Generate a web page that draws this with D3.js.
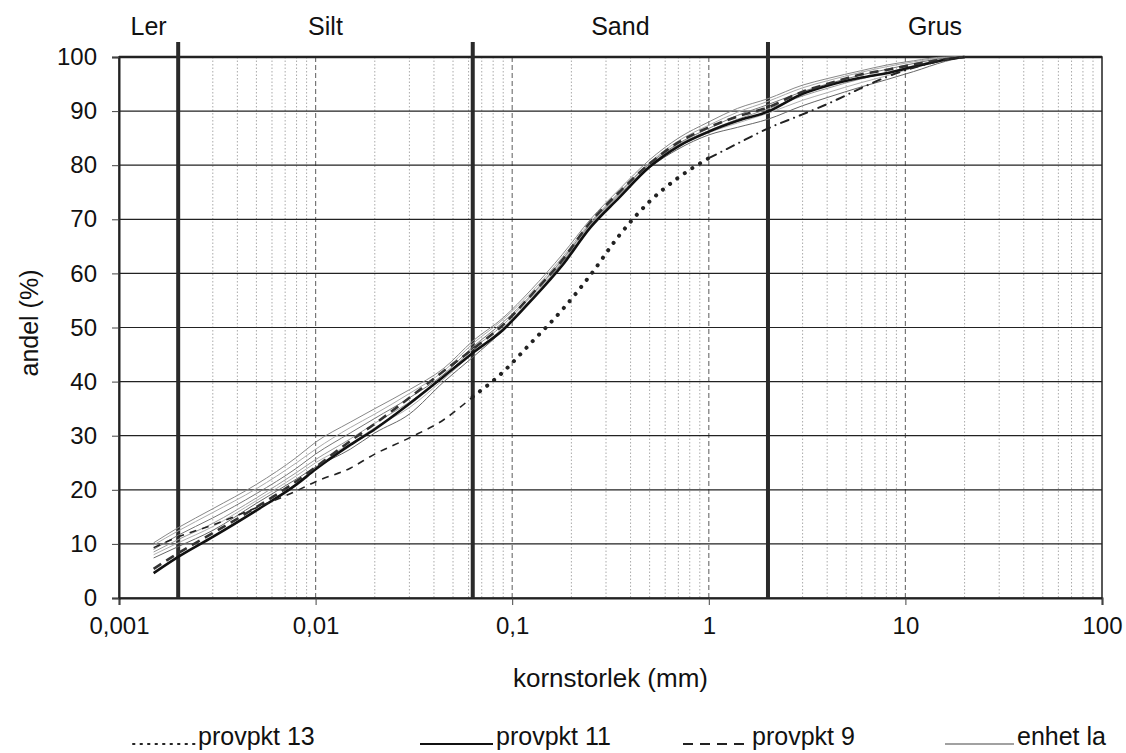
<!DOCTYPE html>
<html>
<head>
<meta charset="utf-8">
<script src="https://cdn.jsdelivr.net/npm/d3@7"></script>
<style>
  body { margin: 0; background: #fff; }
  text { font-family: "Liberation Sans", Arial, sans-serif; fill: #111; }
</style>
</head>
<body>
<svg id="vis" width="1126" height="753"></svg>
<script>
// grain sizes (mm)
var sizes = [0.0015, 0.002, 0.003, 0.005, 0.008, 0.01, 0.015, 0.02, 0.03, 0.045, 0.063,
             0.09, 0.125, 0.18, 0.25, 0.35, 0.5, 0.7, 1, 1.4, 2, 3, 4, 6, 8, 11, 16, 20];

var provpkt13 = [9.3, 11.3, 13.5, 16.7, 19.8, 21.5, 24.0, 26.6, 29.6, 33.0, 37.2,
                 41.8, 47.2, 53.3, 59.7, 67.0, 73.3, 77.7, 81.3, 84.0, 86.8, 89.4, 91.3, 94.3, 96.3, 98.0, 99.5, 100];
var provpkt11 = [4.6, 7.6, 11.3, 16.2, 21.0, 23.8, 28.3, 31.2, 35.9, 41.0, 45.3,
                 49.6, 55.0, 61.5, 68.5, 74.0, 79.7, 83.5, 86.2, 88.2, 89.9, 93.2, 94.7, 96.2, 97.0, 98.2, 99.5, 100];
var provpkt9 = [5.4, 8.3, 12.0, 16.8, 21.6, 24.2, 29.0, 32.2, 37.0, 42.0, 46.0,
                50.5, 56.0, 62.5, 69.5, 75.0, 80.3, 84.2, 87.0, 89.0, 90.7, 93.6, 95.0, 96.8, 97.6, 98.6, 99.6, 100];
var enhetLa = [
  [10.2, 13.0, 16.5, 21.0, 26.0, 28.8, 32.5, 35.0, 38.5, 42.5, 47.5, 51.8, 57.0, 63.5, 70.0, 75.5, 81.0, 85.0, 88.0, 90.5, 92.3, 94.8, 96.0, 97.5, 98.5, 99.3, 100, 100],
  [9.8, 12.4, 15.8, 20.2, 25.0, 27.5, 31.5, 34.0, 37.8, 42.0, 47.0, 51.5, 56.5, 63.0, 69.5, 75.0, 80.5, 84.5, 87.4, 89.8, 91.8, 94.3, 95.6, 97.2, 98.2, 99.1, 99.9, 100],
  [9.0, 11.6, 14.8, 19.3, 24.0, 26.6, 30.5, 33.2, 37.0, 41.4, 46.4, 51.0, 56.0, 62.6, 69.2, 74.8, 80.3, 84.0, 86.8, 89.2, 91.2, 93.6, 95.0, 96.7, 97.7, 98.8, 99.8, 100],
  [8.5, 10.8, 13.8, 18.5, 23.2, 25.6, 29.4, 32.3, 36.2, 41.0, 46.0, 50.5, 55.8, 62.5, 69.0, 74.5, 80.0, 83.8, 86.4, 88.5, 90.4, 92.8, 94.2, 96.0, 97.1, 98.4, 99.6, 100],
  [8.0, 10.2, 13.2, 18.0, 22.6, 25.0, 28.5, 31.5, 35.2, 40.5, 45.2, 50.0, 55.4, 62.2, 68.8, 74.2, 79.8, 83.4, 86.0, 87.8, 89.6, 92.0, 93.4, 95.3, 96.5, 98.0, 99.4, 100],
  [7.4, 9.5, 12.5, 17.5, 22.0, 24.2, 27.5, 30.5, 34.0, 40.0, 44.5, 49.5, 55.0, 62.0, 68.5, 74.0, 79.5, 83.0, 85.6, 87.0, 88.5, 91.0, 92.5, 94.5, 95.8, 97.3, 99.2, 100]
];
var enhetColors = ['#888', '#aaa', '#777', '#999', '#b0b0b0', '#666'];

var fractions = ['Ler', 'Silt', 'Sand', 'Grus'];
var fractionLimits = [0.001, 0.002, 0.063, 2, 100];
var xTicks = [0.001, 0.01, 0.1, 1, 10, 100];
var yTicks = [0, 10, 20, 30, 40, 50, 60, 70, 80, 90, 100];

var svg = d3.select('#vis');
// note: "top" is taken by window.top, so plot edges get their own names
var plotLeft = 119, plotRight = 1102, plotTop = 57, plotBottom = 598;

var x = d3.scaleLog().domain([0.001, 100]).range([plotLeft, plotRight]);
var y = d3.scaleLinear().domain([0, 100]).range([plotBottom, plotTop]);

var swe = d3.formatLocale({decimal: ',', thousands: ' ', grouping: [3], currency: ['', ' kr']});
var fmtX = function (d) { return swe.format('~g')(d); };

// minor vertical gridlines
var minor = [];
for (var e = -3; e < 2; e++) {
    for (var m = 2; m <= 9; m++) minor.push(m * Math.pow(10, e));
}
svg.append('g').selectAll('line').data(minor).enter().append('line')
    .attr('x1', function (d) { return x(d); }).attr('x2', function (d) { return x(d); })
    .attr('y1', plotTop).attr('y2', plotBottom)
    .attr('stroke', '#aaa').attr('stroke-width', 1).attr('stroke-dasharray', '1.5,2');

// decade gridlines
svg.append('g').selectAll('line').data(xTicks.slice(1, -1)).enter().append('line')
    .attr('x1', function (d) { return x(d); }).attr('x2', function (d) { return x(d); })
    .attr('y1', plotTop).attr('y2', plotBottom)
    .attr('stroke', '#777').attr('stroke-width', 1.2).attr('stroke-dasharray', '5,3');

// horizontal gridlines
svg.append('g').selectAll('line').data(yTicks.slice(1)).enter().append('line')
    .attr('x1', plotLeft).attr('x2', plotRight)
    .attr('y1', function (d) { return y(d); }).attr('y2', function (d) { return y(d); })
    .attr('stroke', '#222').attr('stroke-width', 1.2);

// frame
svg.append('rect').attr('x', plotLeft).attr('y', plotTop)
    .attr('width', plotRight - plotLeft).attr('height', plotBottom - plotTop)
    .attr('fill', 'none').attr('stroke', '#222').attr('stroke-width', 1.5);
svg.append('line').attr('x1', plotLeft).attr('x2', plotRight)
    .attr('y1', plotTop).attr('y2', plotTop)
    .attr('stroke', '#222').attr('stroke-width', 2.5);

// axes
var xAxis = svg.append('g').attr('transform', 'translate(0,' + plotBottom + ')')
    .call(d3.axisBottom(x).tickValues(xTicks).tickFormat(fmtX).tickSize(7).tickPadding(12));
var yAxis = svg.append('g').attr('transform', 'translate(' + plotLeft + ',0)')
    .call(d3.axisLeft(y).tickValues(yTicks).tickSize(7).tickPadding(15));
[xAxis, yAxis].forEach(function (a) {
    a.select('.domain').attr('stroke', '#222').attr('stroke-width', 2);
    a.selectAll('.tick line').attr('stroke', '#444');
    a.selectAll('.tick text').style('font-size', '24px').attr('fill', '#111')
        .style('font-family', '"Liberation Sans", Arial, sans-serif');
});

// thick fraction limits
svg.append('g').selectAll('line').data(fractionLimits.slice(1, -1)).enter().append('line')
    .attr('x1', function (d) { return x(d); }).attr('x2', function (d) { return x(d); })
    .attr('y1', plotTop - 15).attr('y2', plotBottom)
    .attr('stroke', '#2a2a2a').attr('stroke-width', 4);

svg.append('g').selectAll('text').data(fractions).enter().append('text')
    .attr('x', function (d, i) { return (x(fractionLimits[i]) + x(fractionLimits[i + 1])) / 2; })
    .attr('y', 35).attr('text-anchor', 'middle').style('font-size', '25px')
    .text(function (d) { return d; });

// curves
var line = d3.line()
    .x(function (d) { return x(d[0]); })
    .y(function (d) { return y(d[1]); })
    .curve(d3.curveMonotoneX);
function pts(vals) { return sizes.map(function (s, i) { return [s, vals[i]]; }); }

var curves = svg.append('g');
enhetLa.forEach(function (vals, i) {
    curves.append('path').attr('d', line(pts(vals)))
        .attr('fill', 'none').attr('stroke', enhetColors[i]).attr('stroke-width', 1);
});

curves.append('path').attr('d', line(pts(provpkt11)))
    .attr('fill', 'none').attr('stroke', '#111').attr('stroke-width', 2.6);
curves.append('path').attr('d', line(pts(provpkt9)))
    .attr('fill', 'none').attr('stroke', '#333').attr('stroke-width', 2.6)
    .attr('stroke-dasharray', '9,6');

// provpkt 13: the scan shows the pattern change between fractions
var p13 = pts(provpkt13);
var p13Styles = [
    {from: 0, to: 0.063, dash: '7,6', w: 1.6, cap: 'butt'},
    {from: 0.063, to: 1, dash: '0.1,9', w: 4, cap: 'round'},
    {from: 1, to: 100, dash: '8,6,0.1,6', w: 2, cap: 'round'}
];
p13Styles.forEach(function (s) {
    var seg = p13.filter(function (d) { return d[0] >= s.from && d[0] <= s.to; });
    curves.append('path').attr('d', line(seg))
        .attr('fill', 'none').attr('stroke', '#222').attr('stroke-width', s.w)
        .attr('stroke-dasharray', s.dash).attr('stroke-linecap', s.cap);
});

// axis titles
svg.append('text').attr('x', (plotLeft + plotRight) / 2).attr('y', 687)
    .attr('text-anchor', 'middle').style('font-size', '26px').text('kornstorlek (mm)');
svg.append('text').attr('transform', 'translate(38,' + 323 + ') rotate(-90)')
    .attr('text-anchor', 'middle').style('font-size', '25px').text('andel (%)');

// legend
var legendItems = [
    {label: 'provpkt 13', x: 133, w: 62, dash: '1.5,6', sw: 2, color: '#222', cap: 'round'},
    {label: 'provpkt 11', x: 420, w: 73, dash: null, sw: 2, color: '#111', cap: 'butt'},
    {label: 'provpkt 9', x: 683, w: 66, dash: '10,7', sw: 2, color: '#222', cap: 'butt'},
    {label: 'enhet la', x: 945, w: 69, dash: null, sw: 1.2, color: '#444', cap: 'butt'}
];
var lg = svg.append('g').selectAll('g').data(legendItems).enter().append('g');
lg.append('line')
    .attr('x1', function (d) { return d.x; }).attr('x2', function (d) { return d.x + d.w; })
    .attr('y1', 744).attr('y2', 744)
    .attr('stroke', function (d) { return d.color; })
    .attr('stroke-width', function (d) { return d.sw; })
    .attr('stroke-linecap', function (d) { return d.cap; })
    .attr('stroke-dasharray', function (d) { return d.dash; });
lg.append('text')
    .attr('x', function (d) { return d.x + d.w + 3; }).attr('y', 745)
    .style('font-size', '25px')
    .text(function (d) { return d.label; });
</script>
</body>
</html>
